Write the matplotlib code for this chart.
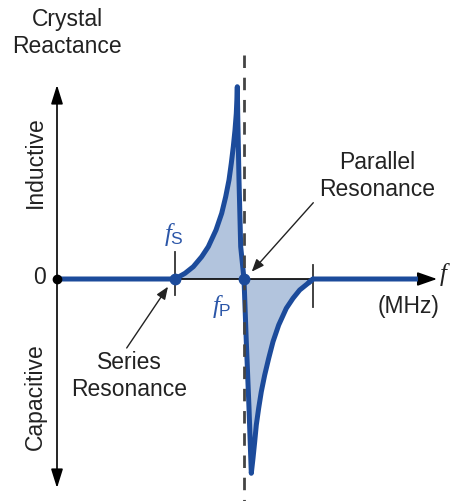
import matplotlib
matplotlib.use("Agg")
import matplotlib.pyplot as plt
from matplotlib.patches import FancyArrowPatch

plt.rcParams['font.family'] = ['Liberation Sans', 'DejaVu Sans']
plt.rcParams['mathtext.fontset'] = 'custom'
plt.rcParams['mathtext.it'] = 'Liberation Serif:italic'
plt.rcParams['mathtext.rm'] = 'Liberation Sans'

###############################################
# Crystal reactance curve
###############################################
# frequency (arbitrary units from the origin) / reactance (arbitrary units)
freq = [0, 118, 128, 136.3, 144.7, 151.3, 159, 164.7, 168.7, 172, 174.3, 176.3,
        178, 179.3, 180, 180.3, 180.7, 182, 183.7, 187,
        189.3, 192, 194.3, 196, 197.7, 199.3, 201.7, 204.3, 207.7, 211.7, 216,
        221.7, 229.3, 236, 242.7, 251, 256, 361]
react = [0, 0, 5.7, 12.3, 22.3, 32.3, 49, 65.7, 82.3, 99, 115.7, 132.3,
         149, 165.7, 182.3, 192.3, 166, 99, 32.3, 0,
         -62.7, -129, -194.3, -179.3, -162.7, -146, -129, -112.7, -96, -79.3, -62.7,
         -46, -29.3, -19.3, -11, -4.3, 0, 0]

f_s = 118.0      # series resonance
f_p = 187.0      # parallel resonance
f_end = 256.0    # end of the capacitive region
f_axis = 380.0   # length of the frequency axis
x_top = 194.0    # top / bottom of reactance axis
x_bot = -209.0

blue = '#1c4b9b'
fill_c = '#b2c4dd'
lab_c = '#2b56a8'

fig = plt.figure(figsize=(4.52, 5.01), dpi=100)
ax = fig.add_axes([0, 0, 1, 1])
ax.set_xlim(-57, 395)
ax.set_ylim(-222, 279)
ax.axis('off')

# shaded area between fs and end
i0 = freq.index(f_s)
i1 = freq.index(f_end)
ax.fill(freq[i0:i1 + 1], react[i0:i1 + 1], color=fill_c, zorder=1, lw=0)

# axes arrows
ax.add_patch(FancyArrowPatch((0, 0), (f_axis, 0), arrowstyle='-|>,head_length=1.2,head_width=0.42',
                             mutation_scale=10, color='black', lw=1.2, shrinkA=0, shrinkB=0, zorder=2))
ax.add_patch(FancyArrowPatch((0, x_bot), (0, x_top), arrowstyle='<|-|>,head_length=1.15,head_width=0.36',
                             mutation_scale=10, color='black', lw=1.2, shrinkA=0, shrinkB=0, zorder=2))

# tick marks at fs and end
ax.plot([f_s, f_s], [27, -16], color='#333333', lw=1.3, zorder=2)
ax.plot([f_end + 0.5, f_end + 0.5], [14, -28], color='#333333', lw=1.3, zorder=2)

# curve
ax.plot(freq[:-1], react[:-1], color=blue, lw=3.6, solid_joinstyle='round',
        solid_capstyle='round', zorder=3)
ax.plot(freq[-3:], react[-3:], color=blue, lw=3.6, solid_capstyle='butt', zorder=3)

# dashed asymptote at fp
ax.plot([f_p, f_p], [224, -222], color='#444444', lw=2.0, dashes=(4.5, 3.5), zorder=4)

# dots
ax.plot([0], [0], 'o', color='black', ms=6, zorder=5)
ax.plot([f_s, f_p], [0, 0], 'o', color=blue, ms=7.5, zorder=5)

# annotation arrows
ax.add_patch(FancyArrowPatch((69.7, -69), (111, -7.7), arrowstyle='-|>,head_length=0.75,head_width=0.3',
                             mutation_scale=10, color='#222222', lw=1.0, shrinkA=0, shrinkB=0, zorder=4))
ax.add_patch(FancyArrowPatch((256.3, 76.3), (194.7, 7.3), arrowstyle='-|>,head_length=0.75,head_width=0.3',
                             mutation_scale=10, color='#222222', lw=1.0, shrinkA=0, shrinkB=0, zorder=4))

# texts
fs_txt = 16.5
ax.text(10, 246, 'Crystal\nReactance', ha='center', va='center', fontsize=fs_txt, color='#222222')
ax.text(-22, 117, 'Inductive', ha='center', va='center', rotation=90, fontsize=fs_txt, color='#222222')
ax.text(-22, -118, 'Capacitive', ha='center', va='center', rotation=90, fontsize=fs_txt, color='#222222')
ax.text(-18, 1, '0', ha='center', va='center', fontsize=fs_txt, color='#222222')
ax.text(117, 45, r'$f_{\mathrm{S}}$', ha='center', va='center', fontsize=18, color=lab_c)
ax.text(165, -27, r'$f_{\mathrm{P}}$', ha='center', va='center', fontsize=18, color=lab_c)
ax.text(382, 5, r'$f$', ha='left', va='center', fontsize=18, color='#222222')
ax.text(352, -27, '(MHz)', ha='center', va='center', fontsize=fs_txt, color='#222222')
ax.text(320, 103, 'Parallel\nResonance', ha='center', va='center', fontsize=fs_txt, color='#222222')
ax.text(72, -97, 'Series\nResonance', ha='center', va='center', fontsize=fs_txt, color='#222222')

fig.savefig('out.png', dpi=100)
